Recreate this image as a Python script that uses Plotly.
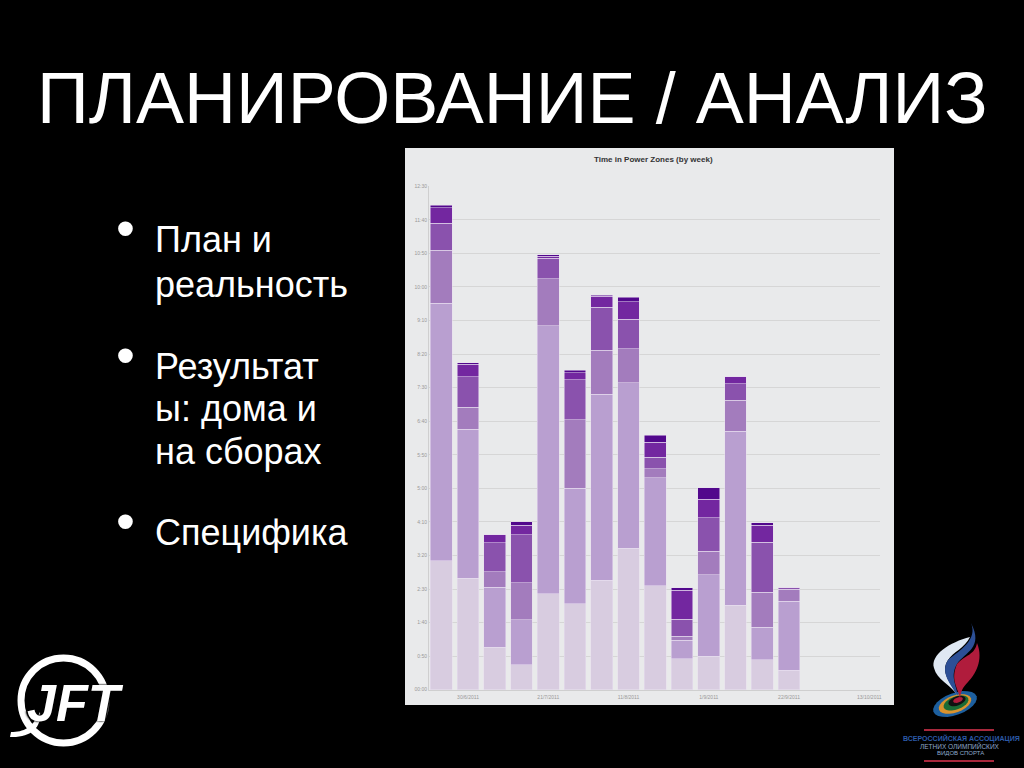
import math

import plotly.graph_objects as go

# week labels, one bar slot per week
weeks = [
    "23/6/2011", "30/6/2011", "7/7/2011", "14/7/2011", "21/7/2011", "28/7/2011",
    "4/8/2011", "11/8/2011", "18/8/2011", "25/8/2011", "1/9/2011", "8/9/2011",
    "15/9/2011", "22/9/2011", "29/9/2011", "6/10/2011", "13/10/2011",
]
tick_weeks = ["30/6/2011", "21/7/2011", "11/8/2011", "1/9/2011", "22/9/2011", "13/10/2011"]

# minutes per zone
zone1 = [192, 166, 63, 37, 143, 128, 163, 211, 155, 46, 50, 126, 45, 29, None, None, None]
zone2 = [384, 222, 90, 67, 399, 172, 277, 246, 161, 28, 121, 259, 48, 103, None, None, None]
zone3 = [79, 33, 23, 55, 70, 102, 66, 51, 13, 6, 35, 46, 52, 18, None, None, None]
zone4 = [40, 45, 43, 72, 31, 60, 64, 44, 17, 25, 50, 25, 75, 2, None, None, None]
zone5 = [23, 19, 12, 14, 3, 10, 16, 26, 23, 43, 28, 10, 25, 0, None, None, None]
zone6 = [4, 2, 0, 5, 2, 4, 2, 7, 10, 4, 17, 0, 4, 0, None, None, None]
zones = [zone1, zone2, zone3, zone4, zone5, zone6]
zone_colors = ["#d8cce0", "#b99fd0", "#a37cbd", "#8a52ad", "#7327a0", "#52088c"]

y_ticks = [0, 50, 100, 150, 200, 250, 300, 350, 400, 450, 500, 550, 600, 650, 700, 750]
y_labels = ["00:00", "0:50", "1:40", "2:30", "3:20", "4:10", "5:00", "5:50",
            "6:40", "7:30", "8:20", "9:10", "10:00", "10:50", "11:40", "12:30"]

W, H = 1024, 768


def px(x):
    return x / W


def py(y):
    return 1 - y / H


def blob(points):
    # svg path from pixel points: start point, then triples of bezier points
    out = f"M {px(points[0][0])} {py(points[0][1])}"
    for i in range(1, len(points), 3):
        out += " C " + " ".join(f"{px(a)} {py(b)}" for a, b in points[i:i + 3])
    return out + " Z"


def tilted_ellipse(cx, cy, rx, ry, angle):
    t = math.radians(angle)
    pts = []
    for d in range(0, 360, 15):
        a = math.radians(d)
        x = rx * math.cos(a)
        y = ry * math.sin(a)
        pts.append(f"{px(cx + x * math.cos(t) + y * math.sin(t))} {py(cy - x * math.sin(t) + y * math.cos(t))}")
    return "M " + " L ".join(pts) + " Z"


fig = go.Figure()
for i, values in enumerate(zones):
    fig.add_trace(go.Bar(
        x=weeks, y=values, name=f"Zone {i + 1}", marker_color=zone_colors[i],
        marker_line_color="rgba(232,222,240,0.75)", marker_line_width=0.7,
        width=0.81, showlegend=False,
    ))

paper = dict(xref="paper", yref="paper")
shapes = [
    # grey chart panel
    dict(type="rect", x0=px(405), x1=px(894), y0=py(705), y1=py(148),
         fillcolor="#e9eaeb", line_width=0, layer="below", **paper),
    # JFT ring
    dict(type="circle", x0=px(21), x1=px(106), y0=py(743), y1=py(658),
         line=dict(color="white", width=7), layer="below", **paper),
    # J tail
    dict(type="path", fillcolor="white", line_width=0, **paper,
         path=blob([(11, 732), (24, 732), (32, 728), (40, 712),
                    (42, 728), (30, 738), (10, 737)])),
    # flame base rings
    dict(type="path", path=tilted_ellipse(955, 704, 23, 11, 20), fillcolor="#1d5f9e", line_width=0, **paper),
    dict(type="path", path=tilted_ellipse(955, 704, 17, 8.5, 20), fillcolor="#d9922e", line_width=0, **paper),
    dict(type="path", path=tilted_ellipse(956, 703, 13, 6.5, 20), fillcolor="#1b6b35", line_width=0, **paper),
    dict(type="path", path=tilted_ellipse(957, 701, 9, 4.5, 20), fillcolor="#111111", line_width=0, **paper),
    dict(type="path", path=tilted_ellipse(958, 700, 5, 2.5, 20), fillcolor="#b01c3c", line_width=0, **paper),
    # flame bands
    dict(type="path", fillcolor="#dfe8f3", line_width=0, **paper,
         path=blob([(970, 637), (950, 642), (930, 655), (934, 668),
                    (937, 680), (950, 684), (958, 696),
                    (950, 682), (940, 672), (948, 660),
                    (953, 652), (965, 648), (970, 637)])),
    dict(type="path", fillcolor="#2c4f96", line_width=0, **paper,
         path=blob([(971, 623), (978, 640), (960, 650), (948, 660),
                    (940, 672), (950, 684), (958, 696),
                    (956, 684), (950, 676), (957, 664),
                    (965, 652), (984, 648), (971, 623)])),
    dict(type="path", fillcolor="#b01c3c", line_width=0, **paper,
         path=blob([(977, 643), (984, 660), (975, 675), (968, 682),
                    (962, 688), (961, 692), (960, 698),
                    (958, 688), (950, 680), (957, 664),
                    (965, 655), (975, 655), (977, 643)])),
    # red rules around the association name
    dict(type="line", x0=px(924), x1=px(994), y0=py(730), y1=py(730),
         line=dict(color="#a8283c", width=2), **paper),
    dict(type="line", x0=px(924), x1=px(994), y0=py(761), y1=py(761),
         line=dict(color="#a8283c", width=2), **paper),
]

annotations = [
    dict(text="ПЛАНИРОВАНИЕ / АНАЛИЗ", x=px(512), y=py(98), font=dict(size=72, color="white")),
    dict(text="<b>Time in Power Zones (by week)</b>", x=px(653), y=py(159),
         font=dict(size=8, color="#333333")),
    dict(text="<b><i>JFT</i></b>", x=px(75), y=py(703),
         font=dict(size=52, color="white", shadow="2px 0 2px black, -2px 0 2px black")),
    dict(text="<b>ВСЕРОССИЙСКАЯ АССОЦИАЦИЯ</b>", x=px(961), y=py(738), font=dict(size=7, color="#2c5aa8")),
    dict(text="ЛЕТНИХ ОЛИМПИЙСКИХ", x=px(960), y=py(746), font=dict(size=6.5, color="#8fa8cc")),
    dict(text="ВИДОВ СПОРТА", x=px(960), y=py(753), font=dict(size=6, color="#8fa8cc")),
]

bullets = [
    (228, [(239, "План и"), (284, "реальность")]),
    (355, [(366, "Результат"), (408, "ы: дома и"), (451, "на сборах")]),
    (521, [(532, "Специфика")]),
]
for mark_y, lines in bullets:
    annotations.append(dict(text="•", x=px(125), y=py(mark_y), font=dict(size=54, color="white")))
    for line_y, line in lines:
        annotations.append(dict(text=line, x=px(153), y=py(line_y), xanchor="left",
                                font=dict(size=36, color="white")))

for a in annotations:
    a.update(xref="paper", yref="paper", showarrow=False)
    a.setdefault("xanchor", "center")
    a["yanchor"] = "middle"

fig.update_layout(
    width=W, height=H, barmode="stack", bargap=0.19,
    paper_bgcolor="black", plot_bgcolor="rgba(0,0,0,0)",
    margin=dict(l=0, r=0, t=0, b=0), autosize=False,
    font=dict(family="Liberation Sans"),
    shapes=shapes, annotations=annotations,
    xaxis=dict(domain=[px(429), px(880)], type="category", categoryorder="array", categoryarray=weeks,
               range=[-0.46, 16.4], tickmode="array", tickvals=tick_weeks, ticktext=tick_weeks,
               tickfont=dict(size=5, color="#999999"), showgrid=False, automargin=False,
               ticks="outside", ticklen=2, tickcolor="#e9eaeb",
               showline=True, linecolor="#cfcfcf", linewidth=1, zeroline=False),
    yaxis=dict(domain=[py(689.7), py(186.3)], range=[0, 750], tickmode="array", tickvals=y_ticks,
               ticktext=y_labels, tickfont=dict(size=5, color="#999999"), gridcolor="#d6d6d6",
               gridwidth=1, showline=True, linecolor="#cfcfcf", linewidth=1, zeroline=False,
               ticks="", automargin=False),
)

fig.write_html("out.html", config=dict(displayModeBar=False),
               post_script="document.body.style.margin='0';")
